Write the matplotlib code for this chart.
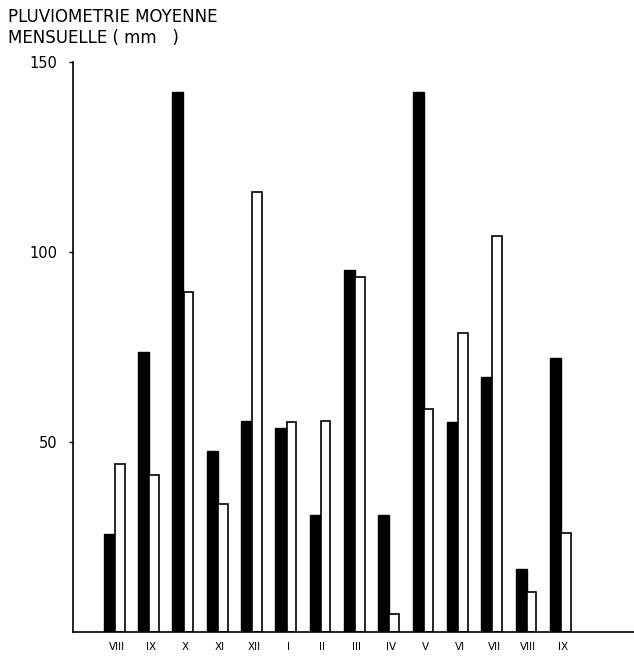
import numpy as np
import matplotlib
matplotlib.use('Agg')
from matplotlib import pyplot as plt

months = ['VIII', 'IX', 'X', 'XI', 'XII', 'I', 'II', 'III', 'IV', 'V', 'VI', 'VII', 'VIII', 'IX']
black_vals = [25.8, 73.7, 142, 47.6, 55.5, 53.7, 30.8, 95.3, 30.8, 142, 55.3, 67.1, 16.6, 72.1]
white_vals = [44.2, 41.3, 89.5, 33.7, 115.8, 55.3, 55.5, 93.4, 4.7, 58.7, 78.7, 104.2, 10.5, 26.0]

fig = plt.figure(figsize=(6.34, 6.57), dpi=100)
ax = fig.add_axes([0.115, 0.038, 0.885, 0.8676])

x = np.arange(len(months))
ax.bar(x - 0.16, black_vals, width=0.32, color='black', edgecolor='black', linewidth=1)
ax.bar(x + 0.145, white_vals, width=0.28, color='white', edgecolor='black', linewidth=1.2)

ax.set_xlim(-1.22, 15.13)
ax.set_ylim(0, 150)
ax.set_yticks([50, 100, 150])
ax.set_yticklabels(['50', '100', '150'], fontsize=10.5)
ax.set_xticks(x + 0.05)
ax.set_xticklabels(months, fontsize=7.5)
ax.tick_params(axis='x', length=0, pad=7)
ax.tick_params(axis='y', length=3, width=1, pad=8)

for s in ['top', 'right']:
	ax.spines[s].set_visible(False)
ax.spines['left'].set_linewidth(1.2)
ax.spines['bottom'].set_linewidth(1.2)

fig.text(0.013, 0.974, 'PLUVIOMETRIE MOYENNE', fontsize=12, va='center', ha='left')
fig.text(0.013, 0.942, 'MENSUELLE ( mm   )', fontsize=12, va='center', ha='left')

fig.savefig('out.png', dpi=100)
